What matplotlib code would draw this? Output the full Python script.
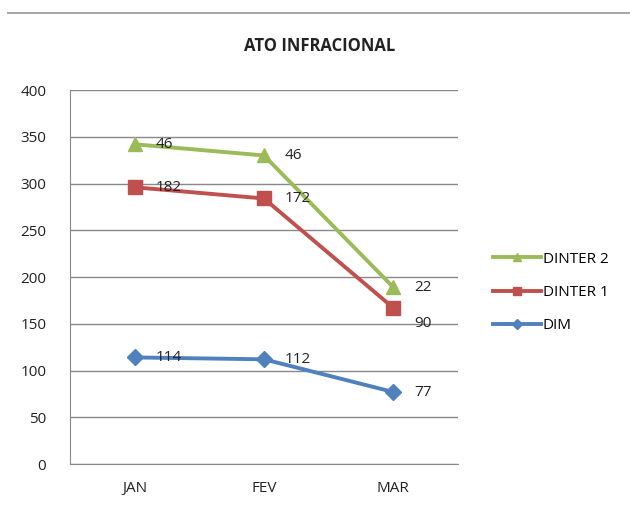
import numpy as np
import matplotlib.pyplot as plt
from matplotlib.lines import Line2D

# months and raw values per series (chart is stacked)
months = ["JAN", "FEV", "MAR"]
dim = [114, 112, 77]
dinter1 = [182, 172, 90]
dinter2 = [46, 46, 22]
yticks = [0, 50, 100, 150, 200, 250, 300, 350, 400]

plt.rcParams['font.family'] = ['Open Sans', 'DejaVu Sans']

fig = plt.figure(figsize=(6.3, 5.13), dpi=100)
ax = fig.add_axes([0.111, 0.0955, 0.616, 0.729])

x = np.arange(len(months)) + 0.5
s1 = np.array(dim)
s2 = s1 + np.array(dinter1)
s3 = s2 + np.array(dinter2)

blue = "#4F81BD"
red = "#C0504D"
green = "#9BBB59"

ax.plot(x, s3, color=green, lw=2.8, marker="^", ms=10, zorder=3)
ax.plot(x, s2, color=red, lw=2.8, marker="s", ms=10, zorder=3)
ax.plot(x, s1, color=blue, lw=2.8, marker="D", ms=8, zorder=3)

# data labels show raw values next to each stacked point
for vals, tops in [(dinter2, s3), (dinter1, s2), (dim, s1)]:
    for i, (v, t) in enumerate(zip(vals, tops)):
        dy = -11 if (vals is dinter1 and i == 2) else 0
        ax.annotate(str(v), (x[i], t), xytext=(15, dy), textcoords="offset points",
                    fontsize=11, color="#222222", va="center", ha="left",
                    annotation_clip=False, zorder=4)

ax.set_xlim(0, 3)
ax.set_ylim(0, 400)
ax.set_yticks(yticks)
ax.set_xticks(x)
ax.set_xticklabels(months)
ax.yaxis.grid(True, color="#888888", lw=1)
ax.set_axisbelow(True)
for side in ["top", "right"]:
    ax.spines[side].set_visible(False)
for side in ["left", "bottom"]:
    ax.spines[side].set_color("#888888")
ax.tick_params(axis="both", length=0, labelsize=11, colors="#222222")
ax.tick_params(axis="y", pad=17)
ax.tick_params(axis="x", pad=12)

fig.text(0.508, 0.91, "ATO INFRACIONAL", ha="center", va="center",
         fontsize=12, fontweight="bold", color="#222222")
fig.add_artist(Line2D([0.013, 1.0], [0.975, 0.975], color="#AAAAAA", lw=1.5))

handles = [
    Line2D([], [], color=green, lw=2.8, marker="^", ms=6),
    Line2D([], [], color=red, lw=2.8, marker="s", ms=6),
    Line2D([], [], color=blue, lw=2.8, marker="D", ms=5),
]
fig.legend(handles, ["DINTER 2", "DINTER 1", "DIM"], loc="center left",
           bbox_to_anchor=(0.76, 0.43), frameon=False, fontsize=11,
           handlelength=3.2, handletextpad=0.1, labelspacing=1.2)

fig.savefig("out.png", dpi=100)
